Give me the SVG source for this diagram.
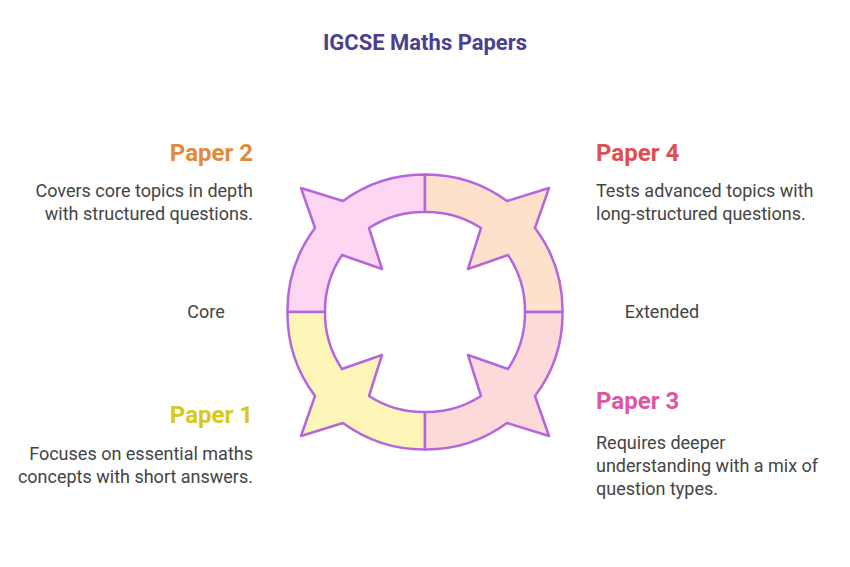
<svg xmlns="http://www.w3.org/2000/svg" width="850" height="567" viewBox="0 0 850 567">
<style>
.q{stroke:#B566DD;stroke-width:2.5;stroke-linejoin:round}
text{font-family:"Roboto","Liberation Sans",sans-serif}
.h{font-size:24px;font-weight:bold}
.b{font-size:18px;fill:#444}
</style>
<defs>
<path id="seg" d="M-137.5,0 A137.5,137.5 0 0 1 -110,-84 L-124,-124 L-82,-111 A137.5,137.5 0 0 1 0,-137.5 L0,-100 A100,100 0 0 0 -56,-84 L-43,-43 L-83,-57 A100,100 0 0 0 -100,0 Z"/>
</defs>
<rect width="850" height="567" fill="#fff"/>
<text x="425" y="50" text-anchor="middle" style="font-size:22px;font-weight:bold" fill="#4B3F91">IGCSE Maths Papers</text>
<g id="ring" transform="translate(425,312)">
<g id="paper2"><use href="#seg" class="q" fill="#FDD6F1"/></g>
<g id="paper4"><use href="#seg" class="q" fill="#FEE1CA" transform="scale(-1,1)"/></g>
<g id="paper1"><use href="#seg" class="q" fill="#FEF6B8" transform="scale(1,-1)"/></g>
<g id="paper3"><use href="#seg" class="q" fill="#FDDADA" transform="scale(-1,-1)"/></g>
</g>
<g id="labels">
<text x="253" y="161" text-anchor="end" class="h" fill="#E08A3A">Paper 2</text>
<text x="253" y="197" text-anchor="end" class="b">Covers core topics in depth</text>
<text x="253" y="220" text-anchor="end" class="b">with structured questions.</text>
<text x="596" y="161" class="h" fill="#E04F4F">Paper 4</text>
<text x="596" y="197" class="b">Tests advanced topics with</text>
<text x="596" y="220" class="b">long-structured questions.</text>
<text x="206" y="318" text-anchor="middle" class="b">Core</text>
<text x="662" y="318" text-anchor="middle" class="b">Extended</text>
<text x="253" y="423" text-anchor="end" class="h" fill="#D8C818">Paper 1</text>
<text x="253" y="460" text-anchor="end" class="b">Focuses on essential maths</text>
<text x="253" y="483" text-anchor="end" class="b">concepts with short answers.</text>
<text x="596" y="409" class="h" fill="#DE56A2">Paper 3</text>
<text x="596" y="449" class="b">Requires deeper</text>
<text x="596" y="472" class="b">understanding with a mix of</text>
<text x="596" y="495" class="b">question types.</text>
</g>
</svg>
